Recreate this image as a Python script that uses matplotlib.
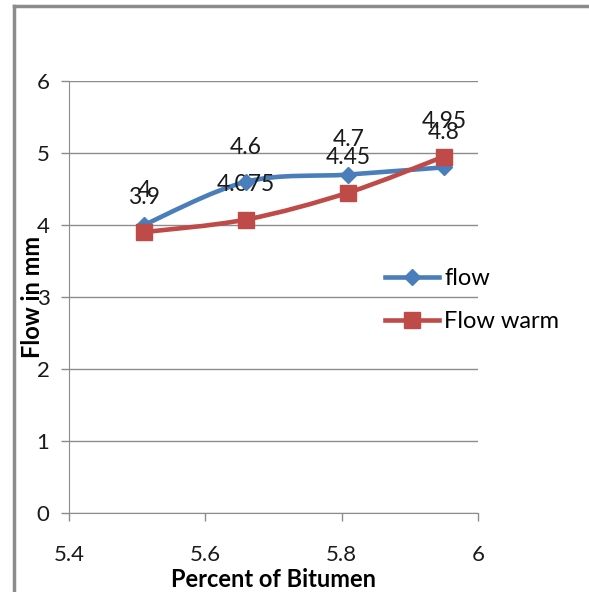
import matplotlib.pyplot as plt
import numpy as np
from matplotlib.path import Path
from matplotlib.patches import PathPatch
from matplotlib.lines import Line2D

# data
bitumen = [5.51, 5.66, 5.81, 5.95]
flow = [4, 4.6, 4.7, 4.8]
flow_warm = [3.9, 4.075, 4.45, 4.95]
flow_labels = ["4", "4.6", "4.7", "4.8"]
warm_labels = ["3.9", "4.075", "4.45", "4.95"]

plt.rcParams['font.family'] = ['Lato', 'DejaVu Sans']

blue = "#4A7EBB"
red = "#BE4B48"
grey = "#8C8C8C"


def smooth_path(xs, ys):
    # Excel style smoothed line: cubic bezier segments (catmull-rom tangents)
    pts = np.column_stack([xs, ys])
    n = len(pts)
    verts = [pts[0]]
    codes = [Path.MOVETO]
    for i in range(n - 1):
        p0 = pts[i - 1] if i > 0 else pts[i]
        p1 = pts[i]
        p2 = pts[i + 1]
        p3 = pts[i + 2] if i + 2 < n else pts[i + 1]
        c1 = p1 + (p2 - p0) / 6.0
        c2 = p2 - (p3 - p1) / 6.0
        verts += [c1, c2, p2]
        codes += [Path.CURVE4] * 3
    return Path(verts, codes)


fig = plt.figure(figsize=(5.89, 5.92), dpi=100)
ax = fig.add_axes([69 / 589, 1 - 512.7 / 592, 409 / 589, 431.7 / 592])

for xs, ys, col in [(bitumen, flow, blue), (bitumen, flow_warm, red)]:
    ax.add_patch(PathPatch(smooth_path(xs, ys), facecolor="none", edgecolor=col,
                           lw=3.3, capstyle="round", joinstyle="round", zorder=3))

ax.plot(bitumen, flow, ls="none", marker="D", ms=8.5, color=blue, zorder=4)
ax.plot(bitumen, flow_warm, ls="none", marker="s", ms=12, color=red, zorder=5)

for x, y, t in zip(bitumen, flow, flow_labels):
    ax.annotate(t, (x, y), xytext=(0, 25), textcoords="offset points",
                ha="center", va="center", fontsize=16.5, color="#1a1a1a")
for x, y, t in zip(bitumen, flow_warm, warm_labels):
    ax.annotate(t, (x, y), xytext=(0, 25), textcoords="offset points",
                ha="center", va="center", fontsize=16.5, color="#1a1a1a")

ax.set_xlim(5.4, 6)
ax.set_ylim(0, 6)
ax.set_xticks([5.4, 5.6, 5.8, 6])
ax.set_xticklabels(["5.4", "5.6", "5.8", "6"])
ax.set_yticks(range(7))
ax.yaxis.grid(True, color=grey, lw=1)
ax.set_axisbelow(True)
for s in ["top", "right"]:
    ax.spines[s].set_visible(False)
for s in ["left", "bottom"]:
    ax.spines[s].set_color(grey)
ax.tick_params(axis="both", colors=grey, labelcolor="#1a1a1a", labelsize=16,
               length=6, width=1)
ax.tick_params(axis="x", pad=17)
ax.tick_params(axis="y", pad=8)

ax.set_xlabel("Percent of Bitumen", fontsize=17, fontweight="bold")
ax.xaxis.set_label_coords(0.5, -0.128)
ax.set_ylabel("Flow in mm", fontsize=17, fontweight="bold")
ax.yaxis.set_label_coords(-0.062, 0.5)

leg = ax.legend(handles=[
    Line2D([], [], color=blue, lw=3.3, marker="D", ms=8.5, label="flow"),
    Line2D([], [], color=red, lw=3.3, marker="s", ms=12, label="Flow warm")],
    loc="center left", bbox_to_anchor=(385 / 589, 1 - 300 / 592),
    bbox_transform=fig.transFigure, frameon=False, fontsize=17,
    handlelength=2.3, handletextpad=0.2, labelspacing=0.95, borderpad=0,
    borderaxespad=0)

# chart border
fig.add_artist(Line2D([14 / 589, 14 / 589], [0, 1 - 6 / 592], color=grey, lw=2.5,
                      transform=fig.transFigure))
fig.add_artist(Line2D([14 / 589, 1], [1 - 6 / 592, 1 - 6 / 592], color=grey, lw=2.5,
                      transform=fig.transFigure))

fig.savefig("out.png", dpi=100)
